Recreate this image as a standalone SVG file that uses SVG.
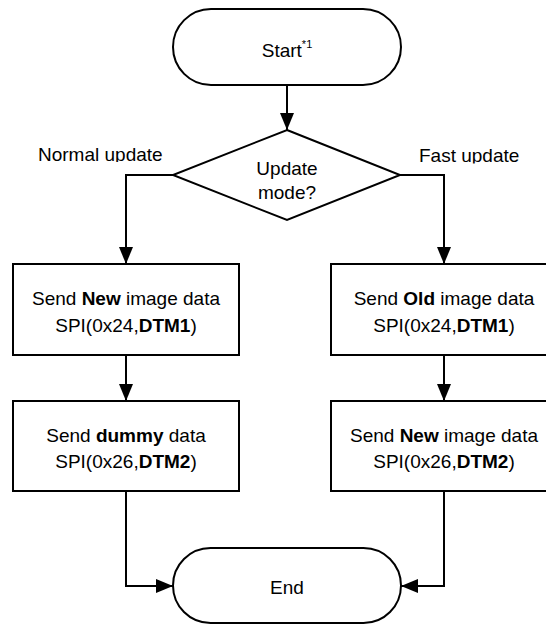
<svg xmlns="http://www.w3.org/2000/svg" width="546" height="625" viewBox="0 0 546 625">
  <style>
    .shape { fill: #ffffff; stroke: #000000; stroke-width: 2; }
    .conn { fill: none; stroke: #000000; stroke-width: 2; }
    text { font-family: "Liberation Sans", Arial, sans-serif; font-size: 19px; fill: #000000; text-anchor: middle; }
    .lbl { text-anchor: start; }
    .b { font-weight: bold; }
    .sup { font-size: 11px; }
  </style>
  <defs>
    <marker id="arrow" markerUnits="userSpaceOnUse" markerWidth="17" markerHeight="14" refX="17" refY="7" orient="auto">
      <path d="M0,0 L17,7 L0,14 z" fill="#000000"/>
    </marker>
    <clipPath id="clipNormal"><rect x="0" y="130" width="200" height="32"/></clipPath>
    <clipPath id="clipFast"><rect x="400" y="130" width="146" height="33.5"/></clipPath>
  </defs>

  <rect width="546" height="625" fill="#ffffff"/>

  <g id="connectors">
    <path class="conn" d="M287,85 V130" marker-end="url(#arrow)"/>
    <path class="conn" d="M173,175 H126 V264" marker-end="url(#arrow)"/>
    <path class="conn" d="M400,175 H444 V264" marker-end="url(#arrow)"/>
    <path class="conn" d="M126,355 V401" marker-end="url(#arrow)"/>
    <path class="conn" d="M444,355 V401" marker-end="url(#arrow)"/>
    <path class="conn" d="M126,491 V586 H173" marker-end="url(#arrow)"/>
    <path class="conn" d="M444,491 V586 H401" marker-end="url(#arrow)"/>
    <text class="lbl" x="38" y="160.5" clip-path="url(#clipNormal)">Normal update</text>
    <text class="lbl" x="419" y="162" clip-path="url(#clipFast)">Fast update</text>
  </g>

  <g id="start">
    <rect class="shape" x="173" y="9" width="228" height="76" rx="38" ry="38"/>
    <text x="287" y="57">Start<tspan class="sup" dy="-9">*1</tspan></text>
  </g>

  <g id="decision">
    <polygon class="shape" points="287,130 400,175 287,220 173,175"/>
    <text x="287" y="174.5">Update</text>
    <text x="287" y="199">mode?</text>
  </g>

  <g id="send-new-normal">
    <rect class="shape" x="13" y="264" width="226" height="91"/>
    <text x="126" y="305">Send <tspan class="b">New</tspan> image data</text>
    <text x="126" y="331.5">SPI(0x24,<tspan class="b">DTM1</tspan>)</text>
  </g>

  <g id="send-dummy">
    <rect class="shape" x="13" y="401" width="226" height="90"/>
    <text x="126" y="442">Send <tspan class="b">dummy</tspan> data</text>
    <text x="126" y="468">SPI(0x26,<tspan class="b">DTM2</tspan>)</text>
  </g>

  <g id="send-old-fast">
    <rect class="shape" x="331" y="264" width="226" height="91"/>
    <text x="444" y="305">Send <tspan class="b">Old</tspan> image data</text>
    <text x="444" y="331.5">SPI(0x24,<tspan class="b">DTM1</tspan>)</text>
  </g>

  <g id="send-new-fast">
    <rect class="shape" x="331" y="401" width="226" height="90"/>
    <text x="444" y="442">Send <tspan class="b">New</tspan> image data</text>
    <text x="444" y="468">SPI(0x26,<tspan class="b">DTM2</tspan>)</text>
  </g>

  <g id="end">
    <rect class="shape" x="173" y="548" width="228" height="75" rx="37.5" ry="37.5"/>
    <text x="287" y="594">End</text>
  </g>
</svg>
